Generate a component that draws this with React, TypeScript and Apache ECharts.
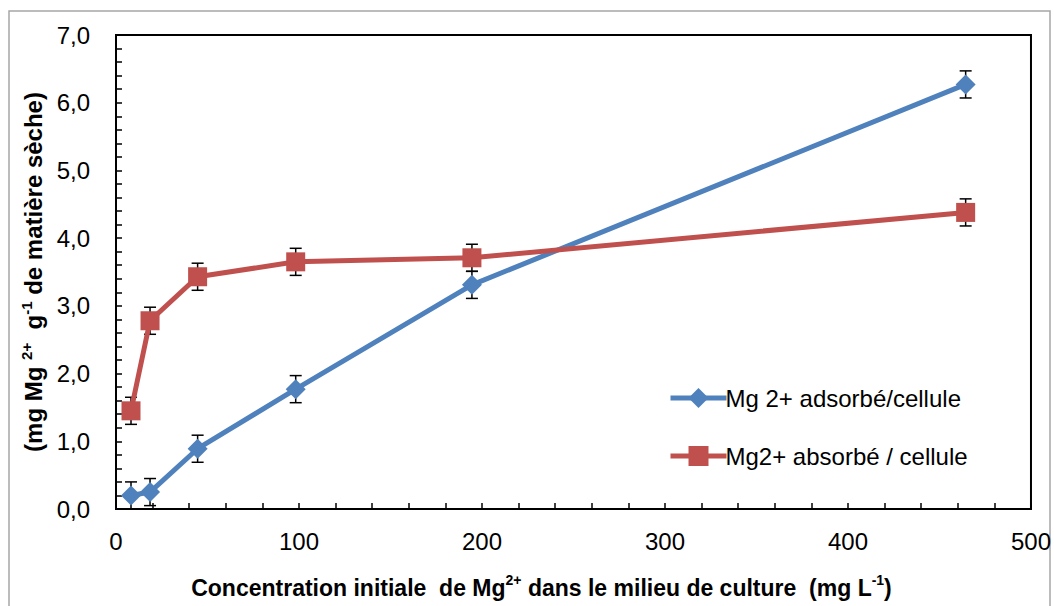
import React, { useEffect, useRef } from "react";
import * as echarts from "echarts";

const concentrations = [8.2, 18.6, 44.6, 98.2, 194.5, 464.3];
const adsorbed = [0.2, 0.25, 0.89, 1.77, 3.31, 6.27];
const adsorbedErr = [0.2, 0.2, 0.2, 0.2, 0.2, 0.2];
const absorbed = [1.45, 2.78, 3.43, 3.65, 3.71, 4.38];
const absorbedErr = [0.2, 0.2, 0.2, 0.2, 0.2, 0.2];
const seriesNames = ["Mg 2+ adsorbé/cellule", "Mg2+ absorbé / cellule"];
const colors = ["#4F81BD", "#C0504D"];
const xTitle = "Concentration initiale  de Mg{sup|2+} dans le milieu de culture  (mg L{sup|-1})";
const yTitle = "(mg Mg {sup|2+}  g{sup|-1} de matière sèche)";

const FONT = "Liberation Sans";

function errorSeries(values: number[], errs: number[], z: number) {
  return {
    type: "custom",
    z,
    silent: true,
    data: concentrations.map((x, i) => [x, values[i] - errs[i], values[i] + errs[i]]),
    renderItem: (_params: any, api: any) => {
      const x = api.value(0);
      const top = api.coord([x, api.value(2)]);
      const bot = api.coord([x, api.value(1)]);
      const hw = 6;
      const st = { stroke: "#000", lineWidth: 1.5 };
      return {
        type: "group",
        children: [
          { type: "line", shape: { x1: top[0], y1: top[1], x2: bot[0], y2: bot[1] }, style: st },
          { type: "line", shape: { x1: top[0] - hw, y1: top[1], x2: top[0] + hw, y2: top[1] }, style: st },
          { type: "line", shape: { x1: bot[0] - hw, y1: bot[1], x2: bot[0] + hw, y2: bot[1] }, style: st },
        ],
      };
    },
  };
}

function toRich(s: string) {
  return "{n|" + s.replace(/\{sup\|([^}]*)\}/g, "}{sup|$1}{n|") + "}";
}

export default function App() {
  const ref = useRef<HTMLDivElement>(null);
  useEffect(() => {
    if (!ref.current) return;
    const chart = echarts.init(ref.current, null, { renderer: "svg" });
    const rich = (size: number) => ({
      n: { fontFamily: FONT, fontWeight: "bold", fontSize: size, color: "#000", lineHeight: size + 6 },
      sup: { fontFamily: FONT, fontWeight: "bold", fontSize: Math.round(size * 0.62), color: "#000", verticalAlign: "top", lineHeight: Math.round(size * 0.62) + 1 },
    });
    chart.setOption({
      animation: false,
      backgroundColor: "#fff",
      textStyle: { fontFamily: FONT },
      graphic: [
        {
          type: "rect",
          shape: { x: 9, y: 11, width: 1041, height: 640 },
          style: { fill: "none", stroke: "#a6a6a6", lineWidth: 1.5 },
          silent: true,
        },
      ],
      grid: {
        left: 116,
        top: 35,
        right: 23,
        bottom: 97,
        show: true,
        borderColor: "#000",
        borderWidth: 2,
        backgroundColor: "transparent",
      },
      legend: {
        orient: "vertical",
        left: 663,
        top: 381,
        itemWidth: 56,
        itemHeight: 25,
        itemGap: 34,
        data: seriesNames,
        lineStyle: { width: 5 },
        textStyle: { fontFamily: FONT, fontSize: 24, color: "#000", padding: [0, 0, 0, -6] },
      },
      xAxis: {
        type: "value",
        min: 0,
        max: 500,
        interval: 100,
        name: toRich(xTitle),
        nameLocation: "middle",
        nameGap: 64,
        nameTextStyle: { rich: rich(23), padding: [0, 64, 0, 0] },
        axisLine: { lineStyle: { color: "#000", width: 2 } },
        axisTick: { inside: true, length: 6, lineStyle: { color: "#000", width: 1.5 } },
        minorTick: { show: true, splitNumber: 5, length: 6, lineStyle: { color: "#000", width: 1.5 } },
        axisLabel: { fontFamily: FONT, fontSize: 24, color: "#000", margin: 20 },
        splitLine: { show: false },
      },
      yAxis: {
        type: "value",
        min: 0,
        max: 7,
        interval: 1,
        name: toRich(yTitle),
        nameLocation: "middle",
        nameRotate: 90,
        nameGap: 64,
        nameTextStyle: { rich: rich(24) },
        axisLine: { lineStyle: { color: "#000", width: 2 } },
        axisTick: { inside: true, length: 6, lineStyle: { color: "#000", width: 1.5 } },
        minorTick: { show: true, splitNumber: 5, length: 6, lineStyle: { color: "#000", width: 1.5 } },
        axisLabel: {
          fontFamily: FONT,
          fontSize: 24,
          color: "#000",
          margin: 26,
          formatter: (v: number) => v.toFixed(1).replace(".", ","),
        },
        splitLine: { show: false },
      },
      series: [
        errorSeries(adsorbed, adsorbedErr, 1),
        errorSeries(absorbed, absorbedErr, 1),
        {
          name: seriesNames[0],
          type: "line",
          z: 3,
          data: concentrations.map((x, i) => [x, adsorbed[i]]),
          symbol: "diamond",
          symbolSize: 20,
          itemStyle: { color: colors[0] },
          lineStyle: { color: colors[0], width: 5 },
        },
        {
          name: seriesNames[1],
          type: "line",
          z: 3,
          data: concentrations.map((x, i) => [x, absorbed[i]]),
          symbol: "rect",
          symbolSize: 19,
          itemStyle: { color: colors[1] },
          lineStyle: { color: colors[1], width: 5 },
        },
      ],
    });
    return () => chart.dispose();
  }, []);
  return <div ref={ref} style={{ position: "fixed", left: 0, top: 0, width: 1054, height: 606 }} />;
}
